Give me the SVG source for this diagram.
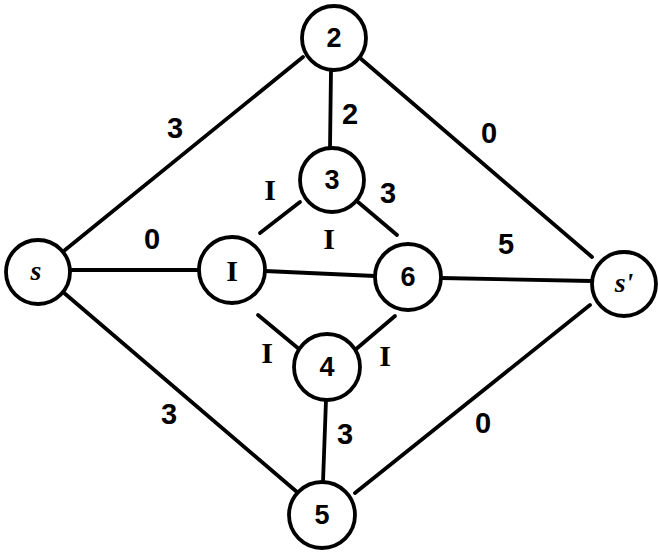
<svg xmlns="http://www.w3.org/2000/svg" width="658" height="554" viewBox="0 0 658 554">
<style>
.n{fill:#fff;stroke:#000;stroke-width:3.8}
.e{stroke:#000;stroke-width:3.8;stroke-linecap:round;fill:none}
.nl{font-family:"Liberation Sans",Arial,sans-serif;font-weight:bold;font-size:27px;text-anchor:middle;fill:#000}
.nls{font-family:"Liberation Serif","Times New Roman",serif;font-weight:bold;font-style:italic;font-size:28px;text-anchor:middle;fill:#000}
.nli{font-family:"Liberation Serif","Times New Roman",serif;font-weight:bold;font-size:30px;text-anchor:middle;fill:#000}
.el{font-family:"Liberation Sans",Arial,sans-serif;font-weight:bold;font-size:29px;text-anchor:middle;fill:#000}
.ei{font-family:"Liberation Serif","Times New Roman",serif;font-weight:bold;font-size:30px;text-anchor:middle;fill:#000}
</style>
<rect width="658" height="554" fill="#fff"/>
<g id="connectors">
<line class="e" x1="303" y1="57" x2="65" y2="250"/>
<line class="e" x1="360" y1="58" x2="592" y2="257"/>
<line class="e" x1="331" y1="70" x2="330" y2="148"/>
<line class="e" x1="71" y1="270" x2="199" y2="270"/>
<line class="e" x1="265" y1="271" x2="375" y2="276"/>
<line class="e" x1="441" y1="278" x2="592" y2="281"/>
<line class="e" x1="63" y1="292" x2="297" y2="492"/>
<line class="e" x1="590" y1="305" x2="355" y2="493"/>
<line class="e" x1="326" y1="400" x2="323" y2="482"/>
<line class="e" x1="300" y1="202" x2="260" y2="233"/>
<line class="e" x1="358" y1="202" x2="397" y2="235"/>
<line class="e" x1="258" y1="315" x2="299" y2="349"/>
<line class="e" x1="395" y1="316" x2="355" y2="350"/>
<text class="el" x="175" y="138">3</text>
<text class="el" x="350" y="124">2</text>
<text class="el" x="489" y="143">0</text>
<text class="ei" x="270" y="200">I</text>
<text class="el" x="388" y="203">3</text>
<text class="el" x="152" y="249">0</text>
<text class="ei" x="329" y="249">I</text>
<text class="el" x="506" y="254">5</text>
<text class="ei" x="267" y="363">I</text>
<text class="ei" x="385" y="366">I</text>
<text class="el" x="169" y="424">3</text>
<text class="el" x="345" y="444">3</text>
<text class="el" x="483" y="433">0</text>
</g>
<g id="node-2"><circle class="n" cx="334" cy="38" r="32"/><text class="nl" x="334" y="47">2</text></g>
<g id="node-3"><circle class="n" cx="332" cy="180" r="32"/><text class="nl" x="332" y="189">3</text></g>
<g id="node-s"><circle class="n" cx="38" cy="272" r="32"/><text class="nls" x="36" y="280">s</text></g>
<g id="node-1"><circle class="n" cx="232" cy="270" r="33"/><text class="nli" x="232" y="281">I</text></g>
<g id="node-6"><circle class="n" cx="408" cy="277" r="33"/><text class="nl" x="408" y="286">6</text></g>
<g id="node-s-prime"><circle class="n" cx="624" cy="284" r="32"/><text class="nls" x="624" y="292">s'</text></g>
<g id="node-4"><circle class="n" cx="327" cy="367" r="33"/><text class="nl" x="327" y="376">4</text></g>
<g id="node-5"><circle class="n" cx="322" cy="515" r="33"/><text class="nl" x="322" y="524">5</text></g>
</svg>
